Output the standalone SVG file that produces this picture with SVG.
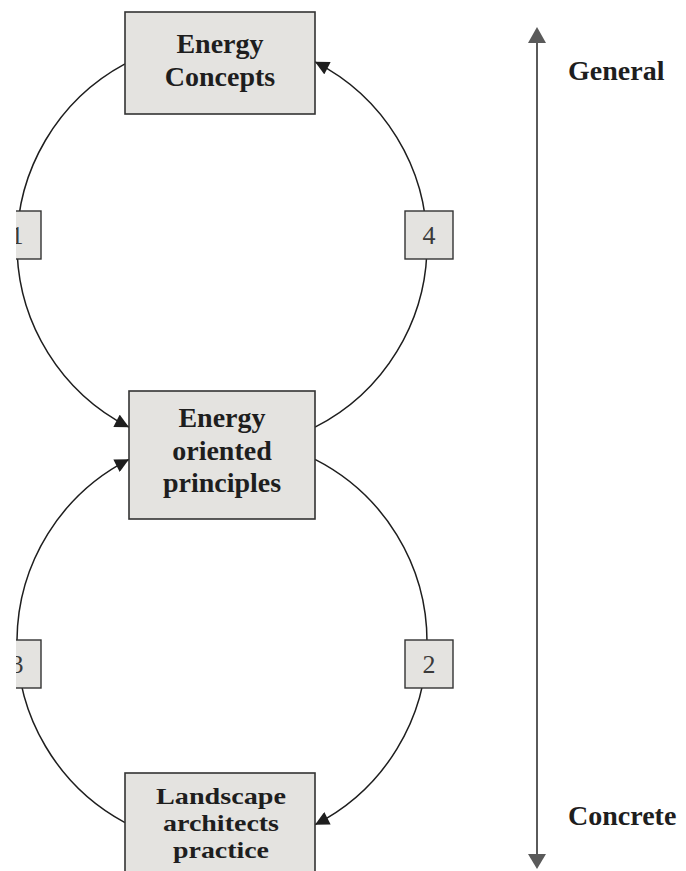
<svg xmlns="http://www.w3.org/2000/svg" width="686" height="871" viewBox="0 0 686 871">
<style>
.node rect{fill:#e4e3e0;stroke:#333;stroke-width:1.6}
.lbl rect{fill:#e4e3e0;stroke:#333;stroke-width:1.4}
.nt{font-family:"Liberation Serif",serif;font-weight:bold;font-size:28px;fill:#1e1e1e;text-anchor:middle}
.nts{font-family:"Liberation Serif",serif;font-weight:bold;font-size:24px;fill:#1e1e1e;text-anchor:middle}
.lt{font-family:"Liberation Serif",serif;font-size:26px;fill:#3a3a3a;text-anchor:middle}
.conn path{fill:none;stroke:#1e1e1e;stroke-width:1.5}
.ax{font-family:"Liberation Serif",serif;font-weight:bold;font-size:28px;fill:#1e1e1e}
</style>
<defs>
<marker id="ah" viewBox="0 0 10 10" refX="10" refY="5" markerWidth="16" markerHeight="14" markerUnits="userSpaceOnUse" orient="auto">
<path d="M0,0 L10,5 L0,10 z" fill="#1e1e1e"/>
</marker>
<clipPath id="cp"><rect x="16" y="0" width="670" height="871"/></clipPath>
</defs>
<rect width="686" height="871" fill="#fff"/>
<g clip-path="url(#cp)">
<g id="connectors" class="conn">
<path d="M125,63.9 A205,205 0 0 0 129,427.2" marker-end="url(#ah)"/>
<path d="M315,427.2 A205,205 0 0 0 315,61.8" marker-end="url(#ah)"/>
<path d="M315,459.3 A205,205 0 0 1 315,824.7" marker-end="url(#ah)"/>
<path d="M125,822.6 A205,205 0 0 1 129,459.3" marker-end="url(#ah)"/>
</g>
<g id="label1" class="lbl"><rect x="-7" y="211" width="48" height="48"/><text class="lt" x="17" y="244">1</text></g>
<g id="label4" class="lbl"><rect x="405" y="211" width="48" height="48"/><text class="lt" x="429" y="244">4</text></g>
<g id="label3" class="lbl"><rect x="-7" y="640" width="48" height="48"/><text class="lt" x="17" y="673">3</text></g>
<g id="label2" class="lbl"><rect x="405" y="640" width="48" height="48"/><text class="lt" x="429" y="673">2</text></g>
<g id="energy-concepts" class="node"><rect x="125" y="12" width="190" height="102"/><text class="nt" x="220" y="53">Energy</text><text class="nt" x="220" y="86">Concepts</text></g>
<g id="energy-principles" class="node"><rect x="129" y="391" width="186" height="128"/><text class="nt" x="222" y="427">Energy</text><text class="nt" x="222" y="460">oriented</text><text class="nt" x="222" y="492">principles</text></g>
<g id="practice" class="node"><rect x="125" y="773" width="190" height="120"/><text class="nts" x="221" y="804" textLength="130" lengthAdjust="spacingAndGlyphs">Landscape</text><text class="nts" x="221" y="831" textLength="116" lengthAdjust="spacingAndGlyphs">architects</text><text class="nts" x="221" y="858" textLength="96" lengthAdjust="spacingAndGlyphs">practice</text></g>
</g>
<g id="axis">
<line x1="537" y1="42" x2="537" y2="855" stroke="#5a5a5a" stroke-width="2"/>
<polygon points="537,27 528,43 546,43" fill="#5a5a5a"/>
<polygon points="537,869 528,854 546,854" fill="#5a5a5a"/>
<text class="ax" x="568" y="80">General</text>
<text class="ax" x="568" y="825">Concrete</text>
</g>
</svg>
